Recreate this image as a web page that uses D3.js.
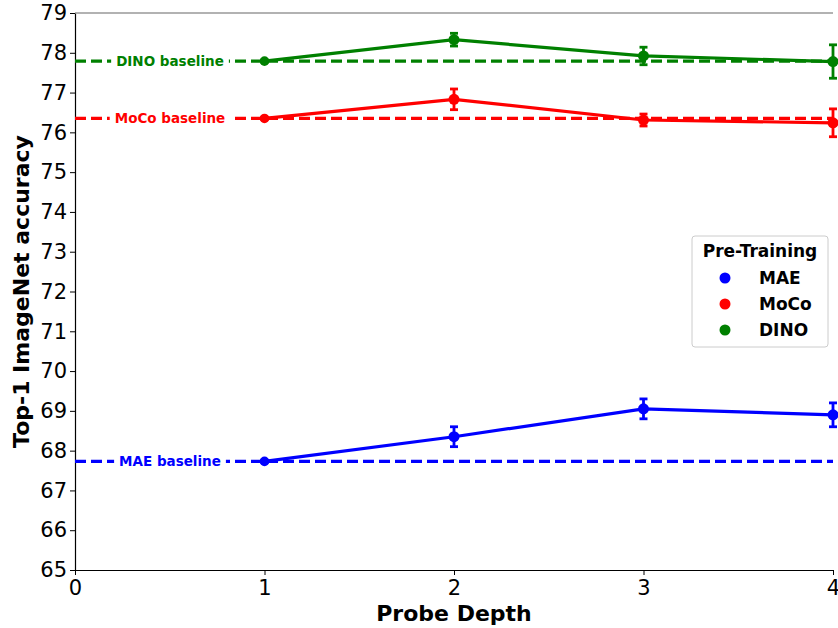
<!DOCTYPE html>
<html><head><meta charset="utf-8">
<script src="https://cdn.jsdelivr.net/npm/d3@7"></script>
<style>body{margin:0;background:#fff}svg{display:block}text{font-family:"DejaVu Sans",sans-serif}</style>
</head><body>
<svg id="c" width="838" height="628"></svg>
<script>
const depths = [1, 2, 3, 4];
const seriesNames = ["MAE", "MoCo", "DINO"];
const seriesColors = ["#0000ff", "#ff0000", "#008000"];
const maeValues = [67.73, 68.35, 69.05, 68.90];
const maeErrors = [0.03, 0.25, 0.25, 0.30];
const mocoValues = [76.35, 76.83, 76.31, 76.24];
const mocoErrors = [0.03, 0.26, 0.15, 0.35];
const dinoValues = [77.79, 78.33, 77.92, 77.78];
const dinoErrors = [0.03, 0.16, 0.22, 0.42];
const baselines = [67.73, 76.35, 77.79];
const baselineLabels = ["MAE baseline", "MoCo baseline", "DINO baseline"];
const xTicks = [0, 1, 2, 3, 4];
const yTicks = d3.range(65, 80, 1);

const svg = d3.select("#c");
const L = 75, R = 833, T = 13, B = 570;
const x = d3.scaleLinear().domain([0, 4]).range([L, R]);
const y = d3.scaleLinear().domain([65, 79]).range([B, T]);

// axes
const xa = svg.append("g").attr("transform", `translate(0,${B})`)
  .call(d3.axisBottom(x).tickValues(xTicks).tickFormat(d3.format("d")).tickSize(5).tickSizeOuter(0));
const ya = svg.append("g").attr("transform", `translate(${L},0)`)
  .call(d3.axisLeft(y).tickValues(yTicks).tickFormat(d3.format("d")).tickSize(5).tickSizeOuter(0));
[xa, ya].forEach(a => {
  a.select(".domain").attr("stroke", "#000").attr("stroke-width", 1.2);
  a.selectAll(".tick line").attr("stroke", "#000").attr("stroke-width", 1);
  a.selectAll(".tick text").attr("font-size", 21).attr("fill", "#000").style("font-family", "DejaVu Sans");
});
xa.selectAll(".tick text").attr("dy", "0.85em").attr("y", 7);
ya.selectAll(".tick text").attr("x", -8);
svg.append("line").attr("x1", L).attr("x2", R).attr("y1", T).attr("y2", T).attr("stroke", "#666").attr("stroke-width", 1.2);

// axis titles
svg.append("text").attr("x", (L + R) / 2).attr("y", 621).attr("text-anchor", "middle")
  .attr("font-size", 22).attr("font-weight", "bold").text("Probe Depth");
svg.append("text").attr("transform", `translate(29,${(T + B) / 2}) rotate(-90)`).attr("text-anchor", "middle")
  .attr("font-size", 22).attr("font-weight", "bold").text("Top-1 ImageNet accuracy");

const allValues = [maeValues, mocoValues, dinoValues];
const allErrors = [maeErrors, mocoErrors, dinoErrors];

// baselines
baselines.forEach((b, i) => {
  svg.append("line").attr("x1", L).attr("x2", R).attr("y1", y(b)).attr("y2", y(b))
    .attr("stroke", seriesColors[i]).attr("stroke-width", 3.2).attr("stroke-dasharray", "11,5");
  const t = svg.append("text").attr("x", 170).attr("y", y(b)).attr("dy", "0.35em")
    .attr("text-anchor", "middle").attr("font-size", 13.5).attr("font-weight", "bold")
    .attr("fill", seriesColors[i]).text(baselineLabels[i]);
  const bb = t.node().getBBox();
  svg.insert("rect", () => t.node()).attr("x", bb.x - 5).attr("y", bb.y).attr("width", bb.width + 10).attr("height", bb.height).attr("fill", "#fff");
});

// series
const line = d3.line().x(d => x(d[0])).y(d => y(d[1]));
seriesNames.forEach((n, i) => {
  const pts = depths.map((d, j) => [d, allValues[i][j], allErrors[i][j]]);
  const g = svg.append("g");
  g.append("path").datum(pts).attr("d", line).attr("fill", "none").attr("stroke", seriesColors[i]).attr("stroke-width", 3.2);
  pts.forEach(p => {
    const cx = x(p[0]);
    g.append("line").attr("x1", cx).attr("x2", cx).attr("y1", y(p[1] - p[2])).attr("y2", y(p[1] + p[2]))
      .attr("stroke", seriesColors[i]).attr("stroke-width", 2.8);
    [p[1] - p[2], p[1] + p[2]].forEach(v => g.append("line").attr("x1", cx - 4).attr("x2", cx + 4)
      .attr("y1", y(v)).attr("y2", y(v)).attr("stroke", seriesColors[i]).attr("stroke-width", 2.8));
    g.append("circle").attr("cx", cx).attr("cy", y(p[1])).attr("r", p[0] === 1 ? 4.8 : 5.5).attr("fill", seriesColors[i]);
  });
});

// legend
const lg = svg.append("g").attr("transform", "translate(692,236)");
lg.append("rect").attr("width", 136).attr("height", 111).attr("rx", 3).attr("fill", "#fff")
  .attr("stroke", "#ccc").attr("stroke-width", 1);
lg.append("text").attr("x", 68).attr("y", 21).attr("text-anchor", "middle").attr("font-size", 17)
  .attr("font-weight", "bold").text("Pre-Training");
seriesNames.forEach((n, i) => {
  const yy = 42 + i * 26;
  lg.append("circle").attr("cx", 33).attr("cy", yy).attr("r", 5.5).attr("fill", seriesColors[i]);
  lg.append("text").attr("x", 67).attr("y", yy).attr("dy", "0.35em").attr("font-size", 17)
    .attr("font-weight", "bold").text(n);
});
</script>
</body></html>
